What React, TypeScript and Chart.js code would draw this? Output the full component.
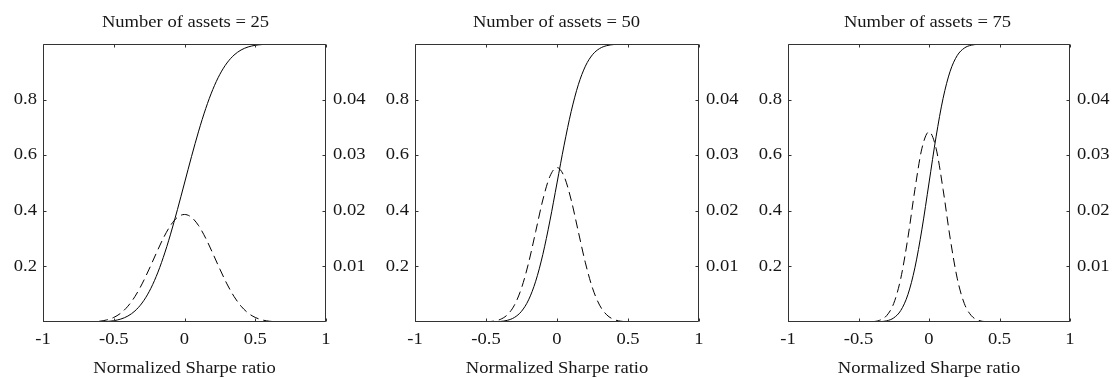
import React, { useEffect, useRef } from 'react';
import { Chart, registerables } from 'chart.js';

Chart.register(...registerables);

// ---------- data ----------
const SHARPE_X = [
  -1, -0.95, -0.9, -0.85, -0.8, -0.75, -0.7, -0.65, -0.6, -0.55, -0.5, -0.45, -0.4, -0.35, -0.3, -0.25, -0.2, -0.15, -0.1, -0.05,
  0, 0.05, 0.1, 0.15, 0.2, 0.25, 0.3, 0.35, 0.4, 0.45, 0.5, 0.55, 0.6, 0.65, 0.7, 0.75, 0.8, 0.85, 0.9, 0.95, 1,
];

const PANEL_TITLES = ['Number of assets = 25', 'Number of assets = 50', 'Number of assets = 75'];
const X_AXIS_LABEL = 'Normalized Sharpe ratio';

// cumulative distribution (solid, left axis)
const CDF_25 = [
  0, 0, 0, 0, 0, 0, 0.0001, 0.0002, 0.0007, 0.0019, 0.0047, 0.0106, 0.0215, 0.0399, 0.0683, 0.109, 0.1636, 0.2322, 0.3134, 0.4042,
  0.5, 0.5958, 0.6866, 0.7678, 0.8364, 0.891, 0.9317, 0.9601, 0.9785, 0.9894, 0.9953, 0.9981, 0.9993, 0.9998, 0.9999, 1, 1, 1, 1, 1, 1,
];
const CDF_50 = [
  0, 0, 0, 0, 0, 0, 0, 0, 0, 0.0001, 0.0002, 0.0006, 0.0019, 0.006, 0.0163, 0.0385, 0.0797, 0.1467, 0.2425, 0.3638,
  0.5, 0.6362, 0.7575, 0.8533, 0.9203, 0.9615, 0.9837, 0.994, 0.9981, 0.9994, 0.9998, 0.9999, 1, 1, 1, 1, 1, 1, 1, 1, 1,
];
const CDF_75 = [
  0, 0, 0, 0, 0, 0, 0, 0, 0, 0, 0, 0.0001, 0.0003, 0.0012, 0.0042, 0.0148, 0.0416, 0.098, 0.1951, 0.3341,
  0.5, 0.6659, 0.8049, 0.902, 0.9584, 0.9852, 0.9958, 0.9988, 0.9997, 0.9999, 1, 1, 1, 1, 1, 1, 1, 1, 1, 1, 1,
];

// probability (dashed, right axis)
const PDF_25 = [
  0, 0, 0, 0, 0, 0, 0.00001, 0.00005, 0.00014, 0.00037, 0.00082, 0.0016, 0.00284, 0.00459, 0.00685, 0.00951, 0.01234, 0.01506, 0.01732, 0.01882,
  0.01934, 0.01882, 0.01732, 0.01506, 0.01234, 0.00951, 0.00685, 0.00459, 0.00284, 0.0016, 0.00082, 0.00037, 0.00014, 0.00005, 0.00001, 0, 0, 0, 0, 0, 0,
];
const PDF_50 = [
  0, 0, 0, 0, 0, 0, 0, 0, 0, 0.00001, 0.00003, 0.00014, 0.00046, 0.00129, 0.00303, 0.0061, 0.01064, 0.01627, 0.02194, 0.02619,
  0.02778, 0.02619, 0.02194, 0.01627, 0.01064, 0.0061, 0.00303, 0.00129, 0.00046, 0.00014, 0.00003, 0.00001, 0, 0, 0, 0, 0, 0, 0, 0, 0,
];
const PDF_75 = [
  0, 0, 0, 0, 0, 0, 0, 0, 0, 0, 0, 0.00001, 0.00006, 0.00031, 0.00115, 0.00335, 0.00787, 0.01508, 0.02382, 0.03125,
  0.0342, 0.03125, 0.02382, 0.01508, 0.00787, 0.00335, 0.00115, 0.00031, 0.00006, 0.00001, 0, 0, 0, 0, 0, 0, 0, 0, 0, 0, 0,
];

const X_TICKS = [-1, -0.5, 0, 0.5, 1];
const LEFT_TICKS = [0.2, 0.4, 0.6, 0.8];
const RIGHT_TICKS = [0.01, 0.02, 0.03, 0.04];

// ---------- styling / layout ----------
const FONT_FAMILY = "'Liberation Serif', 'Times New Roman', Times, serif";
const TEXT_COLOR = '#161616';
const TEXT_STRETCH = 1.16;
const CANVAS_W = 371;
const CANVAS_H = 378;

const PANELS = [
  { left: 0, leftW: 43, rightW: 45, cdf: CDF_25, pdf: PDF_25, title: PANEL_TITLES[0] },
  { left: 371, leftW: 44, rightW: 43, cdf: CDF_50, pdf: PDF_50, title: PANEL_TITLES[1] },
  { left: 742, leftW: 46, rightW: 43, cdf: CDF_75, pdf: PDF_75, title: PANEL_TITLES[2] },
];

const framePlugin = {
  id: 'frameTicks',
  afterDatasetsDraw(chart: any) {
    const { ctx, chartArea } = chart;
    const { left, right, top, bottom } = chartArea;
    const sx = chart.scales.x;
    const sy = chart.scales.y;
    const L = 3;
    ctx.save();
    ctx.strokeStyle = '#333';
    ctx.lineWidth = 1;
    ctx.beginPath();
    const l = Math.round(left) + 0.5;
    const r = Math.round(right) - 0.5;
    const t = Math.round(top) + 0.5;
    const b = Math.round(bottom) - 0.5;
    ctx.rect(l, t, r - l, b - t);
    X_TICKS.forEach((v) => {
      const px = Math.round(sx.getPixelForValue(v)) + 0.5;
      ctx.moveTo(px, b);
      ctx.lineTo(px, b - L);
      ctx.moveTo(px, t);
      ctx.lineTo(px, t + L);
    });
    LEFT_TICKS.forEach((v) => {
      const py = Math.round(sy.getPixelForValue(v)) + 0.5;
      ctx.moveTo(l, py);
      ctx.lineTo(l + L, py);
      ctx.moveTo(r, py);
      ctx.lineTo(r - L, py);
    });
    ctx.stroke();
    ctx.restore();
  },
};

function Panel({ cfg }: { cfg: (typeof PANELS)[number] }) {
  const ref = useRef<HTMLCanvasElement>(null);

  useEffect(() => {
    const canvas = ref.current!;
    const ctx = canvas.getContext('2d') as any;
    const origFill = ctx.fillText;
    ctx.fillText = function (text: string, x: number, y: number) {
      this.save();
      this.translate(x, y);
      this.scale(TEXT_STRETCH, 1);
      origFill.call(this, text, 0, 0);
      this.restore();
    };

    const chart = new Chart(ctx, {
      type: 'line',
      data: {
        datasets: [
          {
            data: SHARPE_X.map((x, i) => ({ x, y: cfg.cdf[i] })),
            borderColor: '#000',
            borderWidth: 1,
            pointRadius: 0,
            cubicInterpolationMode: 'monotone',
            yAxisID: 'y',
          },
          {
            data: SHARPE_X.map((x, i) => ({ x, y: cfg.pdf[i] })),
            borderColor: '#000',
            borderWidth: 1,
            borderDash: [9, 5],
            pointRadius: 0,
            cubicInterpolationMode: 'monotone',
            yAxisID: 'y2',
          },
        ],
      },
      options: {
        responsive: false,
        animation: false,
        devicePixelRatio: 1,
        layout: { padding: 0 },
        plugins: {
          legend: { display: false },
          tooltip: { enabled: false },
          title: {
            display: true,
            text: cfg.title,
            color: TEXT_COLOR,
            font: { family: FONT_FAMILY, size: 16, weight: 'normal', lineHeight: 1.2 },
            padding: { top: 13, bottom: 11.8 },
          },
        },
        scales: {
          x: {
            type: 'linear',
            min: -1,
            max: 1,
            afterBuildTicks: (a: any) => {
              a.ticks = X_TICKS.map((v) => ({ value: v }));
            },
            ticks: {
              padding: 8,
              color: TEXT_COLOR,
              font: { family: FONT_FAMILY, size: 16 },
              maxRotation: 0,
              autoSkip: false,
              callback: (v: any) => String(v),
            },
            grid: { display: false, drawTicks: false },
            border: { display: false },
            title: {
              display: true,
              text: X_AXIS_LABEL,
              color: TEXT_COLOR,
              font: { family: FONT_FAMILY, size: 16, lineHeight: 1.2 },
              padding: { top: 0, bottom: 0 },
            },
            afterFit: (s: any) => {
              s.height = 56;
            },
          },
          y: {
            type: 'linear',
            position: 'left',
            min: 0,
            max: 1,
            afterBuildTicks: (a: any) => {
              a.ticks = LEFT_TICKS.map((v) => ({ value: v }));
            },
            ticks: {
              padding: 6,
              color: TEXT_COLOR,
              font: { family: FONT_FAMILY, size: 16 },
              callback: (v: any) => Number(v).toFixed(1),
            },
            grid: { display: false, drawTicks: false },
            border: { display: false },
            afterFit: (s: any) => {
              s.width = cfg.leftW;
            },
          },
          y2: {
            type: 'linear',
            position: 'right',
            min: 0,
            max: 0.05,
            afterBuildTicks: (a: any) => {
              a.ticks = RIGHT_TICKS.map((v) => ({ value: v }));
            },
            ticks: {
              padding: 7,
              color: TEXT_COLOR,
              font: { family: FONT_FAMILY, size: 16 },
              callback: (v: any) => Number(v).toFixed(2),
            },
            grid: { display: false, drawTicks: false },
            border: { display: false },
            afterFit: (s: any) => {
              s.width = cfg.rightW;
            },
          },
        },
      } as any,
      plugins: [framePlugin],
    });

    return () => {
      chart.destroy();
      ctx.fillText = origFill;
    };
  }, [cfg]);

  return (
    <div style={{ position: 'absolute', left: cfg.left, top: 0, width: CANVAS_W, height: CANVAS_H }}>
      <canvas ref={ref} width={CANVAS_W} height={CANVAS_H} style={{ display: 'block' }} />
    </div>
  );
}

export default function App() {
  return (
    <div style={{ position: 'absolute', left: 0, top: 0, width: 1113, height: 378, background: '#fff' }}>
      {PANELS.map((p, i) => (
        <Panel key={i} cfg={p} />
      ))}
    </div>
  );
}
